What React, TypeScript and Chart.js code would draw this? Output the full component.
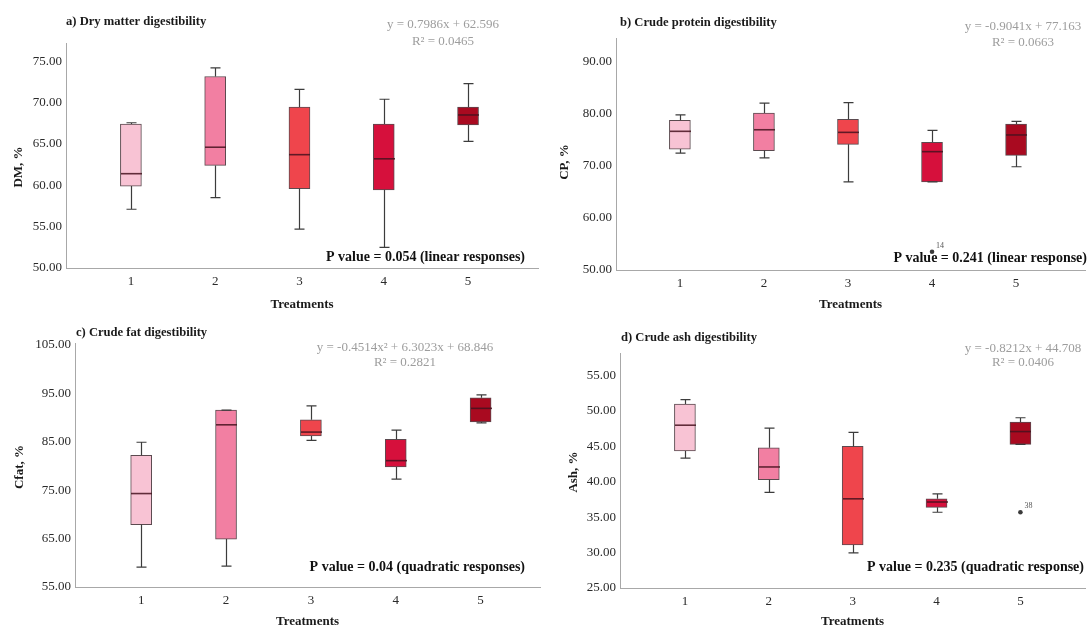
import { useEffect, useRef } from "react";
import { Chart, registerables } from "chart.js";

Chart.register(...registerables);

const SERIF = "'Liberation Serif', 'Times New Roman', serif";

const treatments = [1, 2, 3, 4, 5];
const boxFill = ["#f8c3d4", "#f27fa2", "#ef454c", "#d6103c", "#a90a20"];

// a) Dry matter digestibility (DM, %)
const dmMin = [57.1, 58.5, 54.7, 52.5, 65.3];
const dmQ1 = [59.9, 62.4, 59.6, 59.45, 67.3];
const dmMedian = [61.4, 64.6, 63.7, 63.2, 68.5];
const dmQ3 = [67.4, 73.15, 69.45, 67.4, 69.45];
const dmMax = [67.56, 74.2, 71.6, 70.4, 72.3];
const dmTicks = [50, 55, 60, 65, 70, 75];

// b) Crude protein digestibility (CP, %)
const cpMin = [72.4, 71.5, 66.9, 66.9, 69.8];
const cpQ1 = [73.2, 72.9, 74.1, 66.9, 72.0];
const cpMedian = [76.6, 76.9, 76.4, 72.7, 75.9];
const cpQ3 = [78.7, 80.1, 78.9, 74.5, 78.0];
const cpMax = [79.75, 82.0, 82.1, 76.8, 78.5];
const cpOutlierX = [4];
const cpOutlierY = [53.5];
const cpOutlierId = ["14"];
const cpTicks = [50, 60, 70, 80, 90];

// c) Crude fat digestibility (Cfat, %)
const cfMin = [59.1, 59.3, 85.3, 77.3, 88.9];
const cfQ1 = [67.9, 64.9, 86.2, 79.8, 89.1];
const cfMedian = [74.3, 88.5, 87.0, 81.1, 91.9];
const cfQ3 = [82.2, 91.55, 89.55, 85.5, 94.1];
const cfMax = [84.9, 91.55, 92.4, 87.4, 94.7];
const cfTicks = [55, 65, 75, 85, 95, 105];

// d) Crude ash digestibility (Ash, %)
const ashMin = [43.35, 38.5, 29.95, 35.7, 45.3];
const ashQ1 = [44.35, 40.3, 31.1, 36.4, 45.3];
const ashMedian = [48.0, 42.1, 37.6, 37.15, 47.1];
const ashQ3 = [51.0, 44.8, 45.0, 37.6, 48.45];
const ashMax = [51.6, 47.6, 47.0, 38.3, 49.05];
const ashOutlierX = [5];
const ashOutlierY = [35.7];
const ashOutlierId = ["38"];
const ashTicks = [25, 30, 35, 40, 45, 50, 55];

type Series = {
  min: number[];
  q1: number[];
  median: number[];
  q3: number[];
  max: number[];
  outX: number[];
  outY: number[];
  outId: string[];
  ticks: number[];
};

type Panel = {
  series: Series;
  title: string;
  yTitle: string;
  eq: string;
  r2: string;
  pText: string;
  frame: { left: number; top: number; width: number; height: number };
  area: { left: number; right: number; top: number; bottom: number };
  xRange: [number, number];
  yRange: [number, number];
  text: {
    titleX: number;
    titleY: number;
    eqX: number;
    eqY: number;
    r2Y: number;
    pRight: number;
    pY: number;
    yTitleX: number;
    yTitleY: number;
    xTitleY: number;
  };
};

const panels: Panel[] = [
  {
    series: { min: dmMin, q1: dmQ1, median: dmMedian, q3: dmQ3, max: dmMax, outX: [], outY: [], outId: [], ticks: dmTicks },
    title: "a) Dry matter digestibility",
    yTitle: "DM, %",
    eq: "y = 0.7986x + 62.596",
    r2: "R² = 0.0465",
    pText: "P value = 0.054 (linear responses)",
    frame: { left: 0, top: 0, width: 545, height: 312 },
    area: { left: 66, right: 538, top: 43, bottom: 268 },
    xRange: [0.23, 5.83],
    yRange: [50, 77.2],
    text: { titleX: 66, titleY: 22, eqX: 443, eqY: 25, r2Y: 42, pRight: 525, pY: 257, yTitleX: 19, yTitleY: 167, xTitleY: 305 },
  },
  {
    series: { min: cpMin, q1: cpQ1, median: cpMedian, q3: cpQ3, max: cpMax, outX: cpOutlierX, outY: cpOutlierY, outId: cpOutlierId, ticks: cpTicks },
    title: "b) Crude protein digestibility",
    yTitle: "CP, %",
    eq: "y = -0.9041x + 77.163",
    r2: "R² = 0.0663",
    pText: "P value = 0.241 (linear response)",
    frame: { left: 545, top: 0, width: 544, height: 312 },
    area: { left: 71, right: 544, top: 38, bottom: 270 },
    xRange: [0.24, 5.82],
    yRange: [50, 94.5],
    text: { titleX: 75, titleY: 23, eqX: 478, eqY: 27, r2Y: 43, pRight: 542, pY: 258, yTitleX: 20, yTitleY: 162, xTitleY: 305 },
  },
  {
    series: { min: cfMin, q1: cfQ1, median: cfMedian, q3: cfQ3, max: cfMax, outX: [], outY: [], outId: [], ticks: cfTicks },
    title: "c) Crude fat digestibility",
    yTitle: "Cfat, %",
    eq: "y = -0.4514x² + 6.3023x + 68.846",
    r2: "R² = 0.2821",
    pText: "P value = 0.04 (quadratic responses)",
    frame: { left: 0, top: 312, width: 545, height: 321 },
    area: { left: 75, right: 540, top: 31, bottom: 275 },
    xRange: [0.22, 5.7],
    yRange: [55, 105.4],
    text: { titleX: 76, titleY: 21, eqX: 405, eqY: 36, r2Y: 51, pRight: 525, pY: 255, yTitleX: 20, yTitleY: 155, xTitleY: 310 },
  },
  {
    series: { min: ashMin, q1: ashQ1, median: ashMedian, q3: ashQ3, max: ashMax, outX: ashOutlierX, outY: ashOutlierY, outId: ashOutlierId, ticks: ashTicks },
    title: "d) Crude ash digestibility",
    yTitle: "Ash, %",
    eq: "y = -0.8212x + 44.708",
    r2: "R² = 0.0406",
    pText: "P value = 0.235 (quadratic response)",
    frame: { left: 545, top: 312, width: 544, height: 321 },
    area: { left: 75, right: 544, top: 41, bottom: 276 },
    xRange: [0.226, 5.77],
    yRange: [25, 58.2],
    text: { titleX: 76, titleY: 26, eqX: 478, eqY: 37, r2Y: 51, pRight: 539, pY: 255, yTitleX: 29, yTitleY: 160, xTitleY: 310 },
  },
];

// Whiskers, caps and median lines for each treatment box
const boxWhiskers = {
  id: "boxWhiskers",
  afterDatasetsDraw(chart: any, _args: any, opts: any) {
    const s: Series = opts.series;
    if (!s) return;
    const xs = chart.scales.x;
    const ys = chart.scales.y;
    const ctx: CanvasRenderingContext2D = chart.ctx;
    const half = 10.5;
    const cap = 5;
    ctx.save();
    treatments.forEach((t, i) => {
      const px = Math.round(xs.getPixelForValue(t)) + 0.5;
      const yMin = ys.getPixelForValue(s.min[i]);
      const yQ1 = ys.getPixelForValue(s.q1[i]);
      const yMed = ys.getPixelForValue(s.median[i]);
      const yQ3 = ys.getPixelForValue(s.q3[i]);
      const yMax = ys.getPixelForValue(s.max[i]);
      ctx.strokeStyle = "#3c3c3c";
      ctx.lineWidth = 1.2;
      ctx.beginPath();
      if (s.max[i] > s.q3[i]) {
        ctx.moveTo(px, yQ3);
        ctx.lineTo(px, yMax);
      }
      ctx.moveTo(px - cap, yMax);
      ctx.lineTo(px + cap, yMax);
      if (s.min[i] < s.q1[i]) {
        ctx.moveTo(px, yQ1);
        ctx.lineTo(px, yMin);
      }
      ctx.moveTo(px - cap, yMin);
      ctx.lineTo(px + cap, yMin);
      ctx.stroke();
      ctx.strokeStyle = "rgba(70, 18, 30, 0.85)";
      ctx.lineWidth = 1.6;
      ctx.beginPath();
      ctx.moveTo(px - half, yMed);
      ctx.lineTo(px + half, yMed);
      ctx.stroke();
    });
    ctx.restore();
  },
};

// Panel heading, fitted equation, P value, axis titles and outlier ids
const panelText = {
  id: "panelText",
  afterDraw(chart: any, _args: any, opts: any) {
    const p: Panel = opts.panel;
    if (!p) return;
    const ctx: CanvasRenderingContext2D = chart.ctx;
    const t = p.text;
    const area = chart.chartArea;
    ctx.save();
    ctx.textBaseline = "middle";

    ctx.fillStyle = "#1a1a1a";
    ctx.font = `bold 12.6px ${SERIF}`;
    ctx.textAlign = "left";
    ctx.fillText(p.title, t.titleX, t.titleY);

    ctx.fillStyle = "#9d9d9d";
    ctx.font = `13px ${SERIF}`;
    ctx.textAlign = "center";
    ctx.fillText(p.eq, t.eqX, t.eqY);
    ctx.fillText(p.r2, t.eqX, t.r2Y);

    ctx.fillStyle = "#111";
    ctx.font = `bold 14px ${SERIF}`;
    ctx.textAlign = "right";
    ctx.fillText(p.pText, t.pRight, t.pY);

    ctx.font = `bold 13px ${SERIF}`;
    ctx.textAlign = "center";
    ctx.fillStyle = "#1a1a1a";
    ctx.fillText("Treatments", (area.left + area.right) / 2, t.xTitleY);

    ctx.save();
    ctx.translate(t.yTitleX, t.yTitleY);
    ctx.rotate(-Math.PI / 2);
    ctx.fillText(p.yTitle, 0, 0);
    ctx.restore();

    const xs = chart.scales.x;
    const ys = chart.scales.y;
    ctx.fillStyle = "#555";
    ctx.font = `8px ${SERIF}`;
    ctx.textAlign = "left";
    p.series.outX.forEach((ox, i) => {
      const px = xs.getPixelForValue(ox);
      const py = ys.getPixelForValue(p.series.outY[i]);
      ctx.fillText(p.series.outId[i], px + 4, py - 6);
    });
    ctx.restore();
  },
};

function BoxPanel({ panel }: { panel: Panel }) {
  const ref = useRef<HTMLCanvasElement | null>(null);

  useEffect(() => {
    const canvas = ref.current;
    if (!canvas) return;
    const s = panel.series;
    const a = panel.area;
    const f = panel.frame;
    const chart = new Chart(canvas, {
      type: "bar",
      data: {
        datasets: [
          {
            type: "bar",
            data: treatments.map((t, i) => ({ x: t, y: [s.q1[i], s.q3[i]] })) as any,
            backgroundColor: boxFill,
            borderColor: "#5b4a4f",
            borderWidth: 1,
            borderSkipped: false,
            barThickness: 21,
          },
          {
            type: "scatter",
            data: s.outX.map((x, i) => ({ x, y: s.outY[i] })),
            pointRadius: 2.3,
            pointBackgroundColor: "#3a3a3a",
            pointBorderColor: "#3a3a3a",
            pointBorderWidth: 0,
          } as any,
        ],
      },
      options: {
        animation: false,
        responsive: false,
        devicePixelRatio: 1,
        layout: {
          padding: { left: 0, top: a.top, right: f.width - a.right, bottom: 0 },
        },
        plugins: {
          legend: { display: false },
          tooltip: { enabled: false },
          boxWhiskers: { series: s },
          panelText: { panel },
        } as any,
        scales: {
          x: {
            type: "linear",
            offset: false,
            min: panel.xRange[0],
            max: panel.xRange[1],
            grid: { display: false, drawTicks: false },
            border: { display: true, color: "#a8a8a8", width: 1 },
            afterBuildTicks: (scale: any) => {
              scale.ticks = treatments.map((v) => ({ value: v }));
            },
            afterFit: (scale: any) => {
              scale.height = f.height - a.bottom;
            },
            ticks: {
              padding: 6,
              color: "#2a2a2a",
              font: { family: SERIF, size: 13 },
              callback: (v: any) => String(v),
            },
          },
          y: {
            type: "linear",
            min: panel.yRange[0],
            max: panel.yRange[1],
            grid: { display: false, drawTicks: false },
            border: { display: true, color: "#a8a8a8", width: 1 },
            afterBuildTicks: (scale: any) => {
              scale.ticks = s.ticks.map((v) => ({ value: v }));
            },
            afterFit: (scale: any) => {
              scale.width = a.left;
            },
            ticks: {
              padding: 4,
              color: "#2a2a2a",
              font: { family: SERIF, size: 13 },
              callback: (v: any) => Number(v).toFixed(2),
            },
          },
        } as any,
      },
      plugins: [boxWhiskers, panelText],
    });
    return () => chart.destroy();
  }, [panel]);

  const f = panel.frame;
  return (
    <canvas
      ref={ref}
      width={f.width}
      height={f.height}
      style={{ position: "absolute", left: f.left, top: f.top, width: f.width, height: f.height }}
    />
  );
}

export default function App() {
  return (
    <div
      style={{
        position: "absolute",
        left: 0,
        top: 0,
        width: 1089,
        height: 633,
        background: "#ffffff",
        overflow: "hidden",
      }}
    >
      {panels.map((p) => (
        <BoxPanel key={p.title} panel={p} />
      ))}
    </div>
  );
}
